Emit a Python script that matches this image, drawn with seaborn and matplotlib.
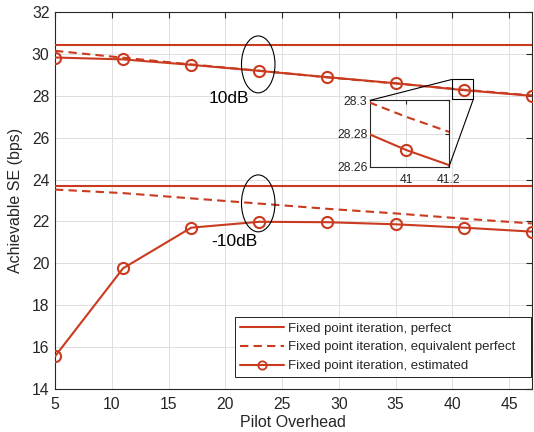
import numpy as np
import pandas as pd
import matplotlib
matplotlib.use("Agg")
import matplotlib.pyplot as plt
import seaborn as sns
from matplotlib.patches import Ellipse, Rectangle, ConnectionPatch
from matplotlib.lines import Line2D

# ---------------- data ----------------
pilot = [5, 11, 17, 23, 29, 35, 41, 47]
perfect_10 = [30.41, 30.41, 30.41, 30.41, 30.41, 30.41, 30.41, 30.41]
equiv_10 = [30.15, 29.82, 29.50, 29.20, 28.88, 28.59, 28.29, 28.02]
est_10 = [29.83, 29.74, 29.48, 29.19, 28.89, 28.60, 28.27, 28.00]
perfect_m10 = [23.70, 23.70, 23.70, 23.70, 23.70, 23.70, 23.70, 23.70]
equiv_m10 = [23.52, 23.35, 23.10, 22.85, 22.60, 22.38, 22.13, 21.90]
est_m10 = [15.55, 19.76, 21.70, 21.98, 21.96, 21.86, 21.70, 21.51]

legend_labels = ["Fixed point iteration, perfect",
                 "Fixed point iteration, equivalent perfect",
                 "Fixed point iteration, estimated"]
xticks = [5, 10, 15, 20, 25, 30, 35, 40, 45]
yticks = [14, 16, 18, 20, 22, 24, 26, 28, 30, 32]
inset_xticks = [41, 41.2]
inset_yticks = [28.26, 28.28, 28.3]

# ---------------- style ----------------
sns.set_style("white")
plt.rcParams["font.family"] = ["Liberation Sans", "DejaVu Sans"]
C = "#c93a1f"
AXC = "#262626"
GRID = "#dedede"

fig = plt.figure(figsize=(5.34, 4.32), dpi=100)
ax = fig.add_axes([0.103, 0.100, 0.893, 0.872])

def draw(a, y, style):
    kw = dict(x=pilot, y=y, ax=a, color=C, lw=1.5, legend=False, zorder=3)
    if style == "solid":
        sns.lineplot(**kw)
    elif style == "dashed":
        sns.lineplot(linestyle=(0, (4, 2.5)), **kw)
    else:
        sns.lineplot(marker="o", ms=8, mfc="none", mec=C, mew=1.5, **kw)

for y, s in [(perfect_10, "solid"), (equiv_10, "dashed"), (est_10, "marker"),
             (perfect_m10, "solid"), (equiv_m10, "dashed"), (est_m10, "marker")]:
    draw(ax, y, s)

ax.set_xlim(5, 47)
ax.set_ylim(14, 32)
ax.set_xticks(xticks)
ax.set_yticks(yticks)
ax.grid(True, color=GRID, lw=0.7, zorder=0)
ax.set_axisbelow(True)
for sp in ax.spines.values():
    sp.set_color(AXC)
    sp.set_linewidth(0.8)
ax.tick_params(direction="in", top=True, right=True, length=4, width=0.8,
               colors=AXC, labelsize=11.3, pad=4)
ax.tick_params(axis="x", pad=6)
ax.set_xlabel("Pilot Overhead", fontsize=11.5, color=AXC, labelpad=2)
ax.set_ylabel("Achievable SE (bps)", fontsize=11.5, color=AXC, labelpad=6)

# ellipses and annotations
for cy in (29.5, 22.86):
    ax.add_patch(Ellipse((22.9, cy), 2.95, 2.72, fill=False, ec="black", lw=0.8, zorder=4))
ax.text(20.35, 27.87, "10dB", fontsize=12.5, ha="center", va="center", color="black")
ax.text(20.8, 21.06, "-10dB", fontsize=12.5, ha="center", va="center", color="black")

# zoom rectangle on main axes
rx0, rx1, ry0, ry1 = 39.94, 41.84, 27.83, 28.78
ax.add_patch(Rectangle((rx0, ry0), rx1 - rx0, ry1 - ry0, fill=False, ec="black", lw=0.8, zorder=5))

# legend
handles = [Line2D([], [], color=C, lw=1.5),
           Line2D([], [], color=C, lw=1.5, linestyle=(0, (4, 2.5))),
           Line2D([], [], color=C, lw=1.5, marker="o", ms=6, mfc="none", mec=C, mew=1.3)]
shown = [legend_labels[0], legend_labels[1] + "   ", legend_labels[2]]
leg = ax.legend(handles, shown, loc="lower right", bbox_to_anchor=(0.999, 0.030),
                borderaxespad=0, fontsize=9.5, handlelength=3.3, handletextpad=0.3,
                labelspacing=0.5, frameon=True, fancybox=False, framealpha=1,
                edgecolor="black", borderpad=0.4)
leg.get_frame().set_linewidth(0.6)
for t in leg.get_texts():
    t.set_color(AXC)

# inset
ins = fig.add_axes([0.6934, 0.6141, 0.1474, 0.1537])
ins.set_facecolor("white")
draw(ins, equiv_10, "dashed")
draw(ins, est_10, "marker")
ins.set_xlim(40.83, 41.2)
ins.set_ylim(28.26, 28.3)
ins.set_xticks(inset_xticks)
ins.set_xticklabels(["41", "41.2"])
ins.set_yticks(inset_yticks)
ins.set_yticklabels(["28.26", "28.28", "28.3"])
ins.grid(True, color=GRID, lw=0.7)
ins.set_axisbelow(True)
for sp in ins.spines.values():
    sp.set_color(AXC)
    sp.set_linewidth(0.8)
ins.tick_params(direction="in", top=True, right=True, length=3, width=0.8,
                colors=AXC, labelsize=8.8, pad=2)
ins.tick_params(axis="x", pad=5)
ins.set_xlabel("")
ins.set_ylabel("")

# connector lines
for xyA, xyB in [((rx0, ry1), (0, 1)), ((rx1, ry0), (1, 0))]:
    con = ConnectionPatch(xyA=xyA, coordsA=ax.transData, xyB=xyB, coordsB=ins.transAxes,
                          color="black", lw=0.8, zorder=6)
    fig.add_artist(con)

fig.savefig("out.png", dpi=100)
